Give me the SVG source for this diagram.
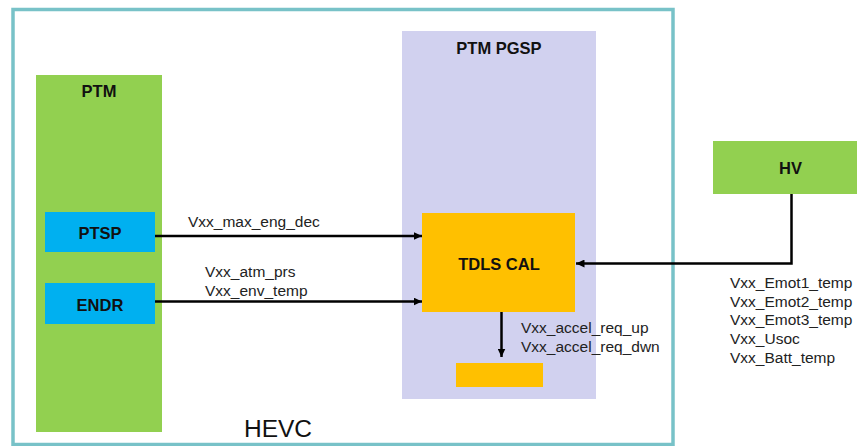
<svg xmlns="http://www.w3.org/2000/svg" width="857" height="446" viewBox="0 0 857 446">
  <style>
    .title { font-family: "Liberation Sans", Arial, sans-serif; font-size: 16.5px; font-weight: bold; fill: #111; text-anchor: middle; }
    .sig { font-family: "Liberation Sans", Arial, sans-serif; font-size: 15.5px; fill: #222; }
    .wire { fill: none; stroke: #000; stroke-width: 2.5; }
  </style>
  <defs>
    <marker id="arrow" viewBox="0 0 10 10" refX="10" refY="5" markerWidth="3.4" markerHeight="3.2" markerUnits="strokeWidth" orient="auto" preserveAspectRatio="none">
      <path d="M0,0 L10,5 L0,10 Z" fill="#000"/>
    </marker>
  </defs>

  <rect width="857" height="446" fill="#fff"/>

  <!-- HEVC controller boundary -->
  <g id="hevc">
    <rect x="13" y="9.5" width="660" height="435" fill="#fff" stroke="#78C2C8" stroke-width="3.5"/>
    <text x="278" y="437" font-family="'Liberation Sans', Arial, sans-serif" font-size="24.5" fill="#111" text-anchor="middle">HEVC</text>
  </g>

  <g id="ptm">
    <rect x="36" y="75" width="126" height="357" fill="#92D050"/>
    <text class="title" x="99" y="97">PTM</text>
  </g>

  <g id="ptsp">
    <rect x="45" y="212" width="110" height="40" fill="#00B0F0"/>
    <text class="title" x="100" y="239">PTSP</text>
  </g>

  <g id="endr">
    <rect x="45" y="283" width="110" height="41" fill="#00B0F0"/>
    <text class="title" x="100" y="311">ENDR</text>
  </g>

  <g id="ptm-pgsp">
    <rect x="402" y="31" width="194" height="368" fill="#D1D1EF"/>
    <text class="title" x="499" y="54">PTM PGSP</text>
  </g>

  <g id="tdls-cal">
    <rect x="422" y="213" width="153" height="99" fill="#FFC000"/>
    <text class="title" x="499" y="270">TDLS CAL</text>
  </g>

  <g id="output-block">
    <rect x="456" y="363" width="87" height="24" fill="#FFC000"/>
  </g>

  <g id="hv">
    <rect x="713" y="141" width="144" height="53" fill="#92D050"/>
    <text class="title" x="790.5" y="174">HV</text>
  </g>

  <!-- signal connectors -->
  <g id="connectors">
    <line class="wire" x1="155" y1="236" x2="422" y2="236" marker-end="url(#arrow)"/>
    <line class="wire" x1="155" y1="301.5" x2="422" y2="301.5" marker-end="url(#arrow)"/>
    <line class="wire" x1="501.5" y1="312" x2="501.5" y2="357" marker-end="url(#arrow)"/>
    <polyline class="wire" points="791.5,194 791.5,263.5 576,263.5" marker-end="url(#arrow)"/>
  </g>

  <!-- signal labels -->
  <g id="labels">
    <text class="sig" x="188" y="226.5">Vxx_max_eng_dec</text>
    <text class="sig" x="205" y="277">Vxx_atm_prs</text>
    <text class="sig" x="205" y="296">Vxx_env_temp</text>
    <text class="sig" x="521" y="333">Vxx_accel_req_up</text>
    <text class="sig" x="521" y="352">Vxx_accel_req_dwn</text>
    <text class="sig" x="730" y="288">Vxx_Emot1_temp</text>
    <text class="sig" x="730" y="306.7">Vxx_Emot2_temp</text>
    <text class="sig" x="730" y="325.4">Vxx_Emot3_temp</text>
    <text class="sig" x="730" y="344.1">Vxx_Usoc</text>
    <text class="sig" x="730" y="362.8">Vxx_Batt_temp</text>
  </g>
</svg>
